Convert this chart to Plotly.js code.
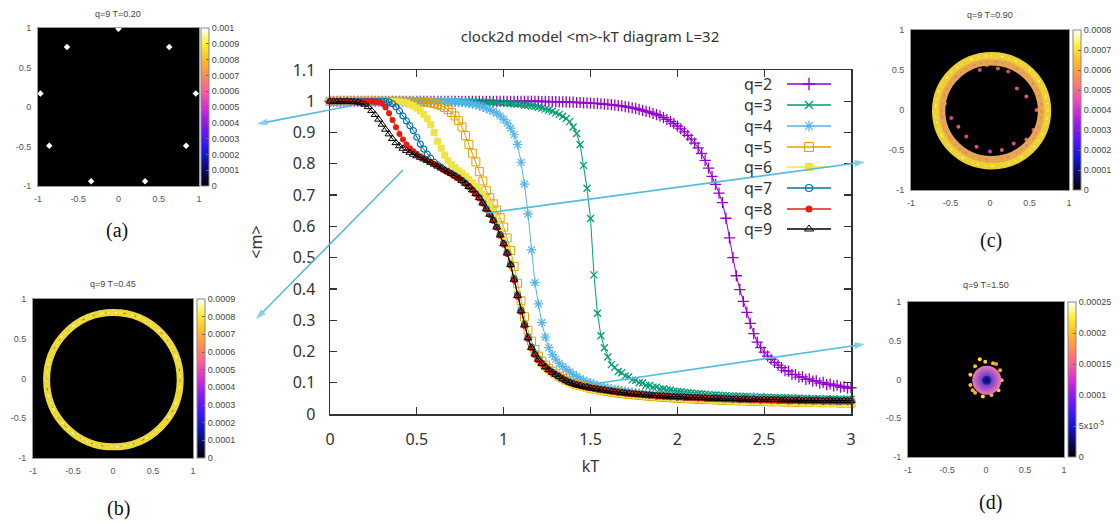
<!DOCTYPE html>
<html><head><meta charset="utf-8">
<script src="https://cdn.plot.ly/plotly-3.0.1.min.js"></script>
<style>html,body{margin:0;padding:0;background:#fff}#chart{width:1120px;height:524px}</style>
</head><body><div id="chart"></div>
<script>
// ---------------- DATA ----------------
const kT = [
0,0.02,0.04,0.06,0.08,0.10,0.12,0.14,0.16,0.18,
0.20,0.22,0.24,0.26,0.28,0.30,0.32,0.34,0.36,0.38,
0.40,0.42,0.44,0.46,0.48,0.50,0.52,0.54,0.56,0.58,
0.60,0.62,0.64,0.66,0.68,0.70,0.72,0.74,0.76,0.78,
0.80,0.82,0.84,0.86,0.88,0.90,0.92,0.94,0.96,0.98,
1.00,1.02,1.04,1.06,1.08,1.10,1.12,1.14,1.16,1.18,
1.20,1.22,1.24,1.26,1.28,1.30,1.32,1.34,1.36,1.38,
1.40,1.42,1.44,1.46,1.48,1.50,1.52,1.54,1.56,1.58,
1.60,1.62,1.64,1.66,1.68,1.70,1.72,1.74,1.76,1.78,
1.80,1.82,1.84,1.86,1.88,1.90,1.92,1.94,1.96,1.98,
2.00,2.02,2.04,2.06,2.08,2.10,2.12,2.14,2.16,2.18,
2.20,2.22,2.24,2.26,2.28,2.30,2.32,2.34,2.36,2.38,
2.40,2.42,2.44,2.46,2.48,2.50,2.52,2.54,2.56,2.58,
2.60,2.62,2.64,2.66,2.68,2.70,2.72,2.74,2.76,2.78,
2.80,2.82,2.84,2.86,2.88,2.90,2.92,2.94,2.96,2.98,
3.00];

const qLabels = ['q=2','q=3','q=4','q=5','q=6','q=7','q=8','q=9'];

const m_q2 = [
1,1,1,1,1,1,1,1,1,1,
1,1,1,1,1,1,1,1,1,1,
1,1,1,1,1,1,1,1,1,1,
1,1,1,1,1,1,1,1,1,1,
1,1,1,1,1,1,1,1,1,1,
1,1,1,1,1,1,1,1,1,1,
1,0.999,1,0.999,0.999,0.999,0.998,0.998,0.998,0.997,
0.997,0.996,0.996,0.995,0.995,0.994,0.993,0.993,0.992,0.991,
0.990,0.989,0.988,0.986,0.985,0.983,0.981,0.979,0.977,0.974,
0.971,0.968,0.965,0.961,0.957,0.953,0.948,0.942,0.936,0.929,
0.921,0.912,0.902,0.891,0.879,0.866,0.851,0.833,0.811,0.786,
0.760,0.734,0.706,0.676,0.626,0.563,0.500,0.442,0.398,0.360,
0.325,0.290,0.257,0.230,0.212,0.198,0.185,0.175,0.165,0.156,
0.148,0.139,0.137,0.127,0.126,0.118,0.119,0.111,0.112,0.105,
0.106,0.099,0.101,0.094,0.096,0.090,0.092,0.086,0.088,0.083,
0.084];

const m_q3 = [
1,1,1,1,1,1,1,1,1,1,
1,1,1,1,1,1,1,1,1,1,
1,1,1,1,1,1,1,1,1,1,
1,1,1,1,0.999,1,0.999,1,0.999,0.999,
0.999,0.999,0.998,0.998,0.998,0.997,0.997,0.996,0.996,0.995,
0.995,0.994,0.993,0.992,0.991,0.990,0.988,0.987,0.985,0.983,
0.981,0.978,0.975,0.972,0.968,0.963,0.958,0.952,0.945,0.935,
0.918,0.897,0.862,0.795,0.722,0.625,0.445,0.322,0.250,0.212,
0.182,0.158,0.149,0.136,0.132,0.122,0.119,0.109,0.108,0.100,
0.099,0.092,0.091,0.086,0.086,0.080,0.081,0.077,0.077,0.073,
0.072,0.071,0.069,0.068,0.067,0.066,0.065,0.064,0.063,0.062,
0.061,0.061,0.060,0.059,0.059,0.058,0.058,0.057,0.057,0.056,
0.056,0.055,0.055,0.054,0.055,0.053,0.054,0.053,0.053,0.052,
0.052,0.052,0.051,0.051,0.050,0.051,0.050,0.050,0.049,0.050,
0.049,0.049,0.048,0.049,0.048,0.048,0.047,0.048,0.047,0.047,
0.047];

const m_q4 = [
1,1,1,1,1,1,1,1,1,1,
1,1,1,1,1,1,1,1,1,1,
1,1,1,1,1,1,1,1,1,1,
1,1,0.999,1,0.999,0.999,0.998,0.998,0.997,0.995,
0.993,0.991,0.988,0.985,0.981,0.977,0.973,0.968,0.962,0.953,
0.942,0.930,0.914,0.893,0.862,0.805,0.735,0.640,0.525,0.420,
0.352,0.292,0.246,0.212,0.190,0.175,0.162,0.152,0.143,0.135,
0.127,0.120,0.113,0.108,0.103,0.099,0.095,0.091,0.088,0.085,
0.083,0.080,0.078,0.077,0.074,0.073,0.071,0.069,0.068,0.067,
0.065,0.064,0.063,0.062,0.061,0.060,0.059,0.058,0.058,0.057,
0.056,0.055,0.055,0.054,0.053,0.053,0.052,0.052,0.051,0.051,
0.050,0.050,0.049,0.049,0.048,0.049,0.047,0.048,0.047,0.047,
0.046,0.047,0.056,0.046,0.045,0.046,0.044,0.045,0.044,0.045,
0.044,0.043,0.044,0.043,0.044,0.042,0.043,0.043,0.042,0.043,
0.042,0.043,0.042,0.041,0.042,0.042,0.041,0.042,0.041,0.041,
0.041];

const m_q5 = [
1,1,1,1,1,1,1,1,1,1,
1,1,1,1,1,1,1,1,1,1,
1,1,0.999,1,0.999,0.999,0.998,0.998,0.997,0.995,
0.993,0.990,0.986,0.980,0.973,0.964,0.953,0.938,0.918,0.890,
0.862,0.834,0.806,0.775,0.745,0.714,0.692,0.672,0.652,0.628,
0.598,0.563,0.523,0.472,0.418,0.362,0.311,0.268,0.233,0.206,
0.185,0.169,0.156,0.146,0.137,0.129,0.121,0.114,0.108,0.103,
0.098,0.094,0.091,0.088,0.085,0.082,0.080,0.078,0.076,0.074,
0.072,0.070,0.069,0.067,0.066,0.064,0.063,0.062,0.061,0.060,
0.059,0.058,0.057,0.056,0.056,0.054,0.054,0.053,0.052,0.052,
0.051,0.050,0.050,0.049,0.049,0.048,0.047,0.048,0.046,0.047,
0.046,0.045,0.046,0.044,0.045,0.043,0.044,0.043,0.042,0.043,
0.042,0.041,0.042,0.040,0.041,0.040,0.041,0.039,0.040,0.039,
0.040,0.038,0.039,0.038,0.039,0.037,0.038,0.038,0.037,0.038,
0.037,0.036,0.038,0.036,0.037,0.036,0.037,0.035,0.036,0.036,
0.035];

const m_q6 = [
1,1,1,1,1,1,1,1,1,1,
1,1,1,0.999,1,0.999,0.999,1,0.999,0.999,
0.998,0.997,0.995,0.990,0.985,0.978,0.969,0.958,0.944,0.925,
0.900,0.872,0.850,0.828,0.810,0.797,0.787,0.778,0.770,0.760,
0.750,0.739,0.727,0.715,0.702,0.688,0.670,0.648,0.620,0.588,
0.555,0.522,0.484,0.437,0.385,0.334,0.287,0.245,0.212,0.189,
0.171,0.158,0.147,0.138,0.130,0.122,0.115,0.109,0.103,0.098,
0.094,0.091,0.087,0.085,0.082,0.080,0.078,0.076,0.074,0.072,
0.071,0.069,0.068,0.066,0.065,0.063,0.063,0.061,0.060,0.059,
0.058,0.057,0.057,0.055,0.055,0.053,0.054,0.052,0.052,0.051,
0.050,0.050,0.049,0.048,0.049,0.047,0.047,0.046,0.046,0.045,
0.045,0.044,0.045,0.043,0.043,0.042,0.043,0.041,0.042,0.040,
0.041,0.040,0.041,0.039,0.040,0.039,0.038,0.039,0.038,0.037,
0.038,0.037,0.036,0.038,0.036,0.037,0.035,0.036,0.035,0.036,
0.034,0.035,0.036,0.034,0.035,0.033,0.034,0.035,0.033,0.034,
0.034];

const m_q7 = [
1,1,1,1,1,1,1,1,1,1,
1,1,1,0.999,1,0.999,0.999,0.998,0.992,0.982,
0.969,0.953,0.937,0.922,0.906,0.885,0.863,0.847,0.831,0.818,
0.805,0.797,0.789,0.781,0.775,0.769,0.762,0.755,0.747,0.738,
0.728,0.717,0.705,0.692,0.675,0.656,0.639,0.620,0.598,0.574,
0.546,0.516,0.479,0.433,0.381,0.332,0.287,0.246,0.214,0.193,
0.176,0.163,0.152,0.142,0.134,0.127,0.120,0.113,0.107,0.102,
0.098,0.094,0.092,0.088,0.087,0.084,0.082,0.080,0.078,0.077,
0.075,0.073,0.072,0.070,0.069,0.068,0.066,0.065,0.064,0.063,
0.063,0.061,0.060,0.060,0.058,0.058,0.057,0.057,0.055,0.056,
0.054,0.055,0.053,0.054,0.052,0.053,0.051,0.052,0.051,0.050,
0.051,0.049,0.050,0.048,0.049,0.048,0.047,0.048,0.046,0.047,
0.047,0.045,0.046,0.046,0.044,0.045,0.045,0.044,0.045,0.043,
0.044,0.044,0.042,0.043,0.044,0.042,0.043,0.042,0.043,0.042,
0.042,0.043,0.041,0.042,0.041,0.042,0.041,0.040,0.042,0.041,
0.041];

const m_q8 = [
1,1,1,0.999,1,1,0.999,1,0.999,0.999,
1,0.999,1,0.999,0.998,0.993,0.980,0.962,0.940,0.917,
0.895,0.878,0.862,0.850,0.840,0.832,0.824,0.817,0.811,0.805,
0.799,0.793,0.787,0.779,0.773,0.767,0.760,0.753,0.745,0.736,
0.726,0.715,0.703,0.690,0.673,0.654,0.637,0.618,0.596,0.570,
0.541,0.512,0.475,0.427,0.375,0.326,0.281,0.240,0.210,0.189,
0.172,0.160,0.149,0.140,0.131,0.125,0.117,0.111,0.105,0.100,
0.095,0.093,0.089,0.088,0.084,0.083,0.080,0.078,0.078,0.075,
0.073,0.071,0.071,0.068,0.067,0.065,0.066,0.063,0.062,0.062,
0.060,0.061,0.058,0.058,0.056,0.057,0.055,0.056,0.054,0.054,
0.053,0.054,0.052,0.051,0.053,0.050,0.051,0.050,0.049,0.051,
0.048,0.049,0.047,0.049,0.046,0.048,0.046,0.047,0.045,0.047,
0.045,0.046,0.044,0.045,0.043,0.046,0.044,0.043,0.045,0.043,
0.042,0.044,0.043,0.041,0.044,0.042,0.043,0.041,0.042,0.040,
0.042,0.041,0.039,0.042,0.040,0.041,0.039,0.040,0.041,0.039,
0.040];

const m_q9 = [
1.000,1.000,0.999,1.000,0.999,1.000,0.999,0.998,0.997,0.994,
0.990,0.982,0.970,0.957,0.942,0.926,0.910,0.895,0.880,0.867,
0.857,0.849,0.842,0.836,0.830,0.825,0.820,0.815,0.810,0.804,
0.798,0.792,0.786,0.780,0.774,0.768,0.761,0.754,0.746,0.737,
0.727,0.716,0.704,0.691,0.674,0.655,0.638,0.619,0.597,0.572,
0.544,0.514,0.477,0.430,0.378,0.329,0.284,0.243,0.212,0.191,
0.174,0.161,0.150,0.141,0.133,0.126,0.119,0.112,0.106,0.101,
0.097,0.093,0.091,0.087,0.086,0.083,0.081,0.080,0.077,0.076,
0.074,0.073,0.071,0.069,0.068,0.067,0.066,0.064,0.064,0.062,
0.062,0.060,0.061,0.059,0.059,0.057,0.058,0.056,0.056,0.055,
0.055,0.054,0.055,0.053,0.053,0.052,0.053,0.051,0.052,0.050,
0.050,0.051,0.049,0.050,0.048,0.049,0.048,0.049,0.047,0.048,
0.047,0.046,0.048,0.046,0.046,0.047,0.045,0.046,0.045,0.046,
0.044,0.045,0.045,0.044,0.044,0.045,0.043,0.044,0.044,0.043,
0.044,0.043,0.042,0.043,0.044,0.042,0.043,0.042,0.043,0.042,
0.042];

// inset panels (q=9 spin distributions)
const panelTitles = ['q=9 T=0.20','q=9 T=0.45','q=9 T=0.90','q=9 T=1.50'];
const panelLetters = ['(a)','(b)','(c)','(d)'];
const panelTickVals = [-1,-0.5,0,0.5,1];
const panelTickText = ['-1','-0.5','0','0.5','1'];

// (a) nine ordered-state spots
const aSpotX = [0,-0.64,0.63,-0.97,0.96,-0.86,0.84,-0.34,0.33];
const aSpotY = [0.99,0.76,0.76,0.17,0.17,-0.49,-0.49,-0.94,-0.94];
const aSpotV = [0.001,0.001,0.001,0.001,0.001,0.001,0.001,0.001,0.001];
// (b) ring extents (mid-line of the band)
const bRingX = [-0.83,0.84];
const bRingY = [-0.86,0.83];
// (c) two ring bands + inner dots
const cOuterX = [-0.69,0.73], cOuterY = [-0.70,0.68];
const cInnerX = [-0.61,0.65], cInnerY = [-0.62,0.60];
const cDotX = [-0.13,-0.04,0.10,0.23,0.34,0.46,-0.42,-0.51,-0.57,-0.49,-0.40,-0.30,-0.17,0.00,0.15,0.30,0.46,0.55,0.59,-0.25];
const cDotY = [0.50,0.56,0.52,0.48,0.27,0.17,0.40,0.29,0.08,-0.10,-0.21,-0.33,-0.46,-0.52,-0.50,-0.42,-0.37,-0.25,0.00,0.54];
const cDotV = [0.00047,0.00045,0.0005,0.00046,0.00048,0.0005,0.00045,0.00049,0.00044,0.00047,0.0005,0.00046,0.00048,0.00045,0.00049,0.00047,0.0005,0.00048,0.0005,0.00046];
// (d) central blob + rim dots
const dCoreX = [0.01], dCoreY = [-0.01];
const dDotX = [-0.14,-0.01,0.09,0.18,0.20,0.16,0.07,-0.04,-0.14,-0.20,-0.20,-0.08,0.13,-0.17];
const dDotY = [0.17,0.23,0.21,0.12,-0.01,-0.14,-0.20,-0.22,-0.17,-0.07,0.06,0.26,0.20,-0.14];
const dDotV = [0.0002,0.00021,0.0002,0.00019,0.0002,0.00021,0.0002,0.00022,0.00019,0.0002,0.00021,0.00022,0.00018,0.00019];

// colour bar ticks
const cbMax = [0.001,0.0009,0.0008,0.00025];
const cbTickVals = [
 [0,0.0001,0.0002,0.0003,0.0004,0.0005,0.0006,0.0007,0.0008,0.0009,0.001],
 [0,0.0001,0.0002,0.0003,0.0004,0.0005,0.0006,0.0007,0.0008,0.0009],
 [0,0.0001,0.0002,0.0003,0.0004,0.0005,0.0006,0.0007,0.0008],
 [0,0.00005,0.0001,0.00015,0.0002,0.00025]];
const cbTickText = [
 ['0','0.0001','0.0002','0.0003','0.0004','0.0005','0.0006','0.0007','0.0008','0.0009','0.001'],
 ['0','0.0001','0.0002','0.0003','0.0004','0.0005','0.0006','0.0007','0.0008','0.0009'],
 ['0','0.0001','0.0002','0.0003','0.0004','0.0005','0.0006','0.0007','0.0008'],
 ['0','5x10<sup>-5</sup>','0.0001','0.00015','0.0002','0.00025']];

// ---------------- STYLE / LAYOUT ----------------
const W = 1120, H = 524;
const PX = v => v / W, PY = v => 1 - v / H;
const FONT = 'Noto Sans, Open Sans, sans-serif';
const SFONT = 'Liberation Sans, Arial, sans-serif';
const arrowColor = '#55bbdf';

const styles = [
 {color:'#9400d3', symbol:'cross-thin', size:8, lw:1.3},
 {color:'#009e73', symbol:'x-thin', size:7, lw:1.3},
 {color:'#56b4e9', symbol:'asterisk', size:8, lw:1.2},
 {color:'#e69f00', symbol:'square-open', size:8, lw:1},
 {color:'#f0e442', symbol:'square', size:7, lw:0},
 {color:'#0072b2', symbol:'circle-open', size:6, lw:1.2},
 {color:'#e51e10', symbol:'circle', size:6, lw:0},
 {color:'#000000', symbol:'triangle-up-open', size:7, lw:1}
];
const series = [m_q2,m_q3,m_q4,m_q5,m_q6,m_q7,m_q8,m_q9];

const gp = [[0,'#000000'],[0.1,'#0a0a60'],[0.2,'#1414d8'],[0.3,'#4a18ff'],[0.4,'#9018ee'],
            [0.5,'#d82ed8'],[0.6,'#ff5c9c'],[0.7,'#ff8c52'],[0.8,'#ffbb2a'],[0.9,'#fff030'],[1,'#ffffff']];

const traces = [];
series.forEach((ys, i) => {
  const s = styles[i];
  traces.push({type:'scatter', mode:'lines+markers', x:kT, y:ys, name:qLabels[i],
    xaxis:'x', yaxis:'y', cliponaxis:false, showlegend:false, hoverinfo:'skip',
    line:{color:s.color, width:1},
    marker:{symbol:s.symbol, size:s.size, color:s.color, line:{color:s.color, width:s.lw}}});
});

// panel backgrounds (heatmap cells) + features
const pAxes = [['x2','y2'],['x3','y3'],['x4','y4'],['x5','y5']];
const cAxes = ['coloraxis','coloraxis2','coloraxis3','coloraxis4'];
pAxes.forEach((a, i) => {
  traces.push({type:'heatmap', z:[[0]], x:[-1,1], y:[-1,1], xaxis:a[0], yaxis:a[1], coloraxis:cAxes[i], hoverinfo:'skip'});
});
traces.push({type:'scatter', mode:'markers', x:aSpotX, y:aSpotY, xaxis:'x2', yaxis:'y2', showlegend:false, hoverinfo:'skip',
  marker:{color:aSpotV, coloraxis:'coloraxis', symbol:'diamond', size:5}});
traces.push({type:'scatter', mode:'markers', x:cDotX, y:cDotY, xaxis:'x4', yaxis:'y4', showlegend:false, hoverinfo:'skip',
  marker:{color:cDotV, coloraxis:'coloraxis3', symbol:'circle', size:4, opacity:0.85}});
traces.push({type:'scatter', mode:'markers', x:dDotX, y:dDotY, xaxis:'x5', yaxis:'y5', showlegend:false, hoverinfo:'skip',
  marker:{color:dDotV, coloraxis:'coloraxis4', symbol:'circle', size:4}});
traces.push({type:'scatter', mode:'markers', x:dCoreX, y:dCoreY, xaxis:'x5', yaxis:'y5', showlegend:false, hoverinfo:'skip',
  marker:{size:29, color:'#f07ab8', gradient:{type:'radial', color:'#3020d0'}, line:{width:0}}});
traces.push({type:'scatter', mode:'markers', x:dCoreX, y:dCoreY, xaxis:'x5', yaxis:'y5', showlegend:false, hoverinfo:'skip',
  marker:{size:9, color:'#2020b0', gradient:{type:'radial', color:'#0a0a50'}, line:{width:0}}});

// custom gnuplot-style key (text left, sample right), drawn in a pixel overlay
const keyRows = [84,105,126,147,167,188,209,229];
keyRows.forEach((r, i) => {
  const s = styles[i];
  traces.push({type:'scatter', mode:'lines', x:[787,831], y:[r,r], xaxis:'x6', yaxis:'y6', showlegend:false, hoverinfo:'skip',
    line:{color:s.color, width:1.6}});
  traces.push({type:'scatter', mode:'markers', x:[809], y:[r], xaxis:'x6', yaxis:'y6', showlegend:false, hoverinfo:'skip', cliponaxis:false,
    marker:{symbol:s.symbol, size:s.size+1, color:s.color, line:{color:s.color, width:s.lw}}});
});

// pointer arrows [tailX, tailY, headX, headY] in the pixel overlay
const arrows = [[350,106,257,124],[403,170,256,319],[487,213,865,162],[593,384,865,344]];
arrows.forEach(a => {
  traces.push({type:'scatter', mode:'lines+markers', x:[a[0],a[2]], y:[a[1],a[3]], xaxis:'x6', yaxis:'y6',
    showlegend:false, hoverinfo:'skip', cliponaxis:false,
    line:{color:arrowColor, width:1.6},
    marker:{symbol:'arrow', angleref:'previous', size:[0,11], color:arrowColor, line:{width:0}}});
});

// rings drawn on the inset axes
const shapes = [];
function ring(xr, yr, xs, ys, color, width, dash){
  return {type:'circle', xref:xs, yref:ys, x0:xr[0], x1:xr[1], y0:yr[0], y1:yr[1], layer:'above',
          line:{color:color, width:width, dash:dash||'solid'}};
}
shapes.push(ring(bRingX, bRingY, 'x3', 'y3', '#ecd936', 7));
shapes.push(ring(bRingX, bRingY, 'x3', 'y3', '#fffbc0', 1.5, '1px,6px,2px,4px,1px,9px,3px,5px'));
shapes.push(ring(bRingX, bRingY, 'x3', 'y3', '#8a7a10', 1, '2px,11px,1px,17px,3px,8px'));
shapes.push(ring(cInnerX, cInnerY, 'x4', 'y4', '#e8a650', 7));
shapes.push(ring(cOuterX, cOuterY, 'x4', 'y4', '#ecd034', 7));
shapes.push(ring(cOuterX, cOuterY, 'x4', 'y4', '#fff27a', 1.5, '1px,6px,2px,4px,1px,9px,3px,5px'));
shapes.push(ring(cInnerX, cInnerY, 'x4', 'y4', '#d8807a', 1.5, '2px,5px,1px,7px,3px,4px'));

function panelAxis(domain, anchor){
  return {domain:domain, anchor:anchor, range:[-1,1], tickmode:'array', tickvals:panelTickVals, ticktext:panelTickText,
    ticks:'', showline:true, linecolor:'#999', linewidth:1, mirror:true, showgrid:false, zeroline:false,
    tickfont:{family:SFONT, size:9, color:'#555'}, ticklabelstandoff:4, fixedrange:true};
}
function cbar(x, ymid, len, i){
  return {x:x, xanchor:'left', xpad:0, y:ymid, yanchor:'middle', ypad:0, len:len, lenmode:'fraction',
    thickness:8, thicknessmode:'pixels', outlinewidth:1, outlinecolor:'#888',
    tickmode:'array', tickvals:cbTickVals[i], ticktext:cbTickText[i], ticks:'inside', ticklen:3, tickcolor:'#666',
    tickfont:{family:SFONT, size:9, color:'#444'}};
}

const annotations = [];
const titlePos = [[118,14],[113,284],[990,15],[986,285]];
const letterPos = [[117,230],[118,508],[991,240],[990,502]];
panelTitles.forEach((t, i) => {
  annotations.push({text:t, xref:'paper', yref:'paper', x:PX(titlePos[i][0]), y:PY(titlePos[i][1]),
    xanchor:'center', yanchor:'middle', showarrow:false, font:{family:SFONT, size:9, color:'#444'}});
  annotations.push({text:panelLetters[i], xref:'paper', yref:'paper', x:PX(letterPos[i][0]), y:PY(letterPos[i][1]),
    xanchor:'center', yanchor:'middle', showarrow:false, font:{family:'Liberation Serif, Times New Roman, serif', size:20, color:'#111'}});
});
qLabels.forEach((q, i) => {
  annotations.push({text:q, xref:'paper', yref:'paper', x:PX(774), y:PY(keyRows[i]), xanchor:'right', yanchor:'middle',
    showarrow:false, font:{family:FONT, size:16, color:'#333'}});
});

const layout = {
  width:W, height:H, margin:{l:0,r:0,t:0,b:0,pad:0,autoexpand:false},
  paper_bgcolor:'#ffffff', plot_bgcolor:'rgba(0,0,0,0)', showlegend:false, hovermode:false,
  font:{family:FONT, color:'#333'},
  title:{text:'clock2d model &lt;m&gt;-kT diagram L=32', x:PX(590), xanchor:'center', y:PY(37), yanchor:'middle',
         font:{family:FONT, size:15, color:'#333'}},
  xaxis:{domain:[PX(330),PX(851)], anchor:'y', range:[0,3], tick0:0, dtick:0.5, ticks:'inside', ticklen:7, tickwidth:1.2,
    tickcolor:'#333', showline:true, linecolor:'#333', linewidth:1.5, mirror:'ticks', showgrid:false, zeroline:false,
    tickfont:{family:FONT, size:16, color:'#333'}, ticklabelstandoff:10, fixedrange:true,
    title:{text:'kT', font:{family:FONT, size:16, color:'#333'}, standoff:12}},
  yaxis:{domain:[PY(414),PY(70)], anchor:'x', range:[0,1.1], tick0:0, dtick:0.1, ticks:'inside', ticklen:7, tickwidth:1.2,
    tickcolor:'#333', showline:true, linecolor:'#333', linewidth:1.5, mirror:'ticks', showgrid:false, zeroline:false,
    tickfont:{family:FONT, size:16, color:'#333'}, ticklabelstandoff:10, fixedrange:true,
    title:{text:'&lt;m&gt;', font:{family:FONT, size:16, color:'#333'}, standoff:26}},
  xaxis2:panelAxis([PX(38),PX(199)],'y2'),  yaxis2:panelAxis([PY(186),PY(28)],'x2'),
  xaxis3:panelAxis([PX(33),PX(193)],'y3'),  yaxis3:panelAxis([PY(458),PY(299)],'x3'),
  xaxis4:panelAxis([PX(911),PX(1069)],'y4'), yaxis4:panelAxis([PY(190),PY(30)],'x4'),
  xaxis5:panelAxis([PX(908),PX(1064)],'y5'), yaxis5:panelAxis([PY(457),PY(302)],'x5'),
  xaxis6:{domain:[0,1], anchor:'y6', range:[0,W], visible:false, fixedrange:true},
  yaxis6:{domain:[0,1], anchor:'x6', range:[H,0], visible:false, fixedrange:true},
  coloraxis:{cmin:0, cmax:cbMax[0], colorscale:gp, colorbar:cbar(PX(201), PY(107), 158/H, 0)},
  coloraxis2:{cmin:0, cmax:cbMax[1], colorscale:gp, colorbar:cbar(PX(197), PY(378.5), 159/H, 1)},
  coloraxis3:{cmin:0, cmax:cbMax[2], colorscale:gp, colorbar:cbar(PX(1073), PY(110), 160/H, 2)},
  coloraxis4:{cmin:0, cmax:cbMax[3], colorscale:gp, colorbar:cbar(PX(1068), PY(379.5), 155/H, 3)},
  shapes:shapes, annotations:annotations
};

Plotly.newPlot('chart', traces, layout, {staticPlot:true, displayModeBar:false});
</script></body></html>
